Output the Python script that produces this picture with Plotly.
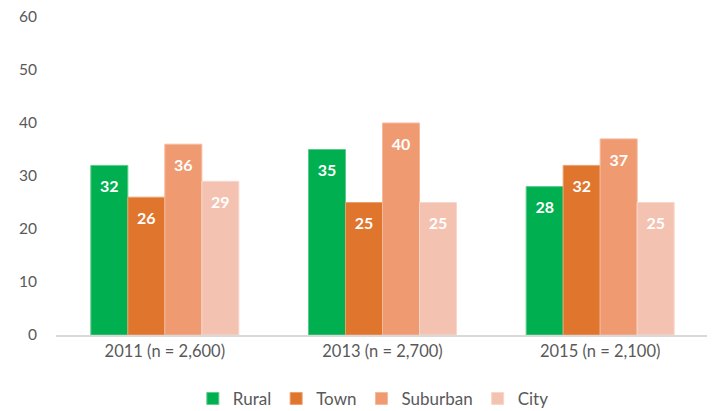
import plotly.graph_objects as go

categories = ["2011 (n = 2,600)", "2013 (n = 2,700)", "2015 (n = 2,100)"]
series_names = ["Rural", "Town", "Suburban", "City"]
rural = [32, 35, 28]
town = [26, 25, 32]
suburban = [36, 40, 37]
city = [29, 25, 25]
y_ticks = [0, 10, 20, 30, 40, 50, 60]

colors = ["#00B050", "#E0752D", "#F09A72", "#F4C2B0"]
line_colors = ["#5CCB8A", "#EBA070", "#F5B99C", "#F8D6CA"]
values = [rural, town, suburban, city]

font_family = "Lato, 'Open Sans', sans-serif"

fig = go.Figure()
for name, vals, c, lc in zip(series_names, values, colors, line_colors):
    fig.add_trace(go.Bar(
        x=categories, y=vals, name=name,
        marker=dict(color=c, line=dict(color=lc, width=1)),
        text=vals,
        texttemplate="<span style='font-size:3px'> </span><br><b>%{text}</b>",
        textposition="inside", insidetextanchor="end",
        textfont=dict(color="white", size=16, family=font_family),
        textangle=0,
        cliponaxis=False,
    ))

# page body has an 8px margin: figure is sized/offset to compensate
fig.update_layout(
    width=707, height=403,
    margin=dict(l=48, r=6, t=9, b=76, autoexpand=False),
    barmode="group", bargap=0.32, bargroupgap=0,
    plot_bgcolor="white", paper_bgcolor="white",
    font=dict(family=font_family, color="#595959", size=16),
    uniformtext=dict(minsize=16, mode="show"),
    legend=dict(orientation="h", x=0.486, xanchor="center",
                yref="container", y=0.03, yanchor="middle",
                font=dict(size=17, color="#595959"), itemwidth=30,
                tracegroupgap=0, traceorder="normal"),
    xaxis=dict(showline=True, linecolor="#D9D9D9", linewidth=1.5, ticks="",
               automargin=False,
               tickfont=dict(size=16.5, color="#595959"), fixedrange=True),
    yaxis=dict(range=[0, 60], tickvals=y_ticks, showgrid=False, zeroline=False,
               showline=False, ticklabelstandoff=18, automargin=False,
               ticklabeloverflow="allow",
               tickfont=dict(size=15.5, color="#595959")),
)

fig.write_html("out.html")
